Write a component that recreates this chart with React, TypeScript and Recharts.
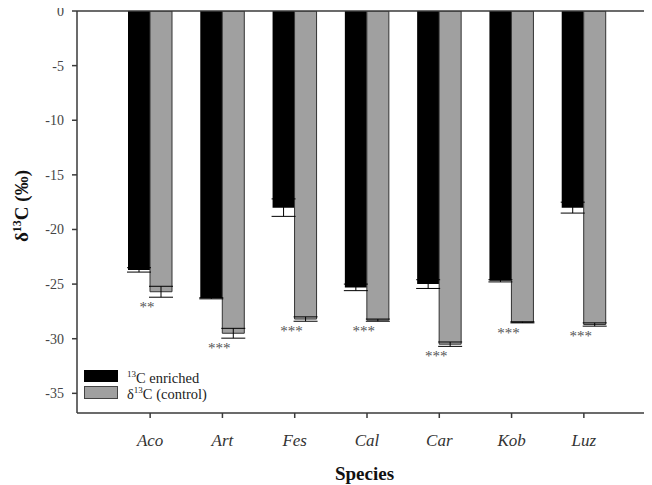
import React from "react";
import { BarChart, Bar, XAxis, YAxis, ErrorBar, LabelList, Legend, ReferenceLine } from "recharts";

const species = ["Aco", "Art", "Fes", "Cal", "Car", "Kob", "Luz"];
const enriched = [-23.7, -26.3, -18.0, -25.3, -25.0, -24.7, -18.0];
const enrichedErr = [0.2, 0.05, 0.8, 0.3, 0.4, 0.1, 0.5];
const control = [-25.7, -29.5, -28.2, -28.3, -30.5, -28.5, -28.7];
const controlErr = [0.5, 0.45, 0.2, 0.1, 0.2, 0.05, 0.15];
const significance = ["**", "***", "***", "***", "***", "***", "***"];
const yTicks = [0, -5, -10, -15, -20, -25, -30, -35];

const data = species.map((s, i) => ({
  species: s,
  enriched: enriched[i],
  enrichedErr: enrichedErr[i],
  control: control[i],
  controlErr: controlErr[i],
  sig: significance[i],
}));

const SERIF = "'Liberation Serif', 'Times New Roman', serif";
const BLACK = "#000000";
const GRAY = "#a0a0a0";
const AXIS = "#3a3a3a";

const Stars = (props: any) => {
  const { x, y, width, height, value, index } = props;
  const h = Math.abs(height);
  const bottom = Math.max(y, y + height);
  const pxPerUnit = h / Math.abs(control[index]);
  const center = bottom + controlErr[index] * pxPerUnit + 8;
  return (
    <text
      x={x + width / 2 - 14}
      y={center + 7}
      textAnchor="middle"
      fontSize={15}
      fontFamily={SERIF}
      fill="#555"
    >
      {value}
    </text>
  );
};

const YLabel = (props: any) => {
  const { viewBox } = props;
  const cx = 20;
  const cy = viewBox.y + viewBox.height / 2 - 6;
  return (
    <text
      transform={`translate(${cx},${cy}) rotate(-90)`}
      textAnchor="middle"
      fontWeight="bold"
      fontSize={19}
      fontFamily={SERIF}
      fill="#111"
    >
      δ<tspan dy={-7} fontSize={12}>13</tspan>
      <tspan dy={7}>C (‰)</tspan>
    </text>
  );
};

const XLabel = (props: any) => {
  const { viewBox } = props;
  return (
    <text
      x={viewBox.x + viewBox.width / 2}
      y={viewBox.y + 67}
      textAnchor="middle"
      fontWeight="bold"
      fontSize={19}
      fontFamily={SERIF}
      fill="#111"
    >
      Species
    </text>
  );
};

const LegendContent = () => (
  <div style={{ fontFamily: SERIF, fontSize: 14.5, color: "#222", lineHeight: "14px" }}>
    <div style={{ display: "flex", alignItems: "center", height: 19 }}>
      <div style={{ width: 34, height: 12, background: BLACK, marginRight: 9 }} />
      <span>
        <sup style={{ fontSize: 9 }}>13</sup>C enriched
      </span>
    </div>
    <div style={{ display: "flex", alignItems: "center", height: 14 }}>
      <div
        style={{
          width: 32,
          height: 11,
          background: GRAY,
          border: "1px solid #444",
          marginRight: 9,
        }}
      />
      <span>
        δ<sup style={{ fontSize: 9 }}>13</sup>C (control)
      </span>
    </div>
  </div>
);

export default function App() {
  return (
    <div style={{ marginTop: -6, height: 483 }}>
      <BarChart
        width={644}
        height={483}
        data={data}
        margin={{ top: 9, right: 0, left: 0, bottom: 12 }}
        barSize={22}
        barGap={0}
      >
        <ReferenceLine y={0} stroke={AXIS} strokeWidth={1.5} />
        <XAxis
          dataKey="species"
          type="category"
          padding={{ left: 37, right: 32 }}
          height={60}
          tickSize={5}
          tickMargin={16}
          stroke={AXIS}
          strokeWidth={1.5}
          interval={0}
          tick={{ fontSize: 17, fontStyle: "italic", fontFamily: SERIF, fill: "#333" }}
          label={<XLabel />}
        />
        <YAxis
          type="number"
          domain={[-36.8, 0]}
          ticks={yTicks}
          interval={0}
          width={69}
          tickSize={5}
          tickMargin={8}
          stroke={AXIS}
          strokeWidth={1.5}
          allowDataOverflow
          tick={{ fontSize: 14, fontFamily: SERIF, fill: "#444" }}
          label={<YLabel />}
        />
        <Legend
          layout="vertical"
          align="center"
          verticalAlign="middle"
          content={<LegendContent />}
          wrapperStyle={{ left: 76, top: 364, width: 200, height: 40 }}
        />
        <Bar dataKey="enriched" fill={BLACK} isAnimationActive={false}>
          <ErrorBar dataKey="enrichedErr" width={12} stroke="#000" strokeWidth={1} />
        </Bar>
        <Bar dataKey="control" fill={GRAY} stroke="#333" strokeWidth={1} isAnimationActive={false}>
          <ErrorBar dataKey="controlErr" width={12} stroke="#000" strokeWidth={1} />
          <LabelList dataKey="sig" content={<Stars />} />
        </Bar>
      </BarChart>
    </div>
  );
}
